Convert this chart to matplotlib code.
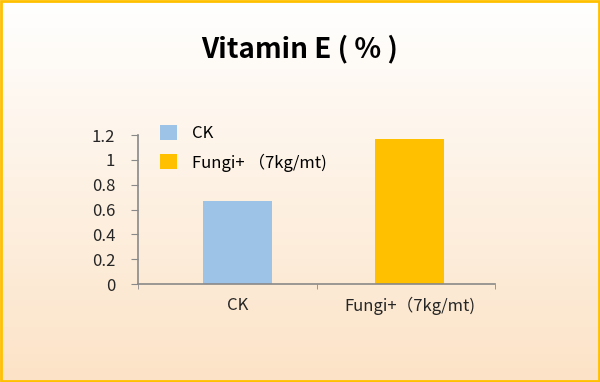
import matplotlib
matplotlib.use("Agg")
import matplotlib.pyplot as plt
import numpy as np
from matplotlib.patches import Rectangle

plt.rcParams['font.family'] = ['Noto Sans CJK SC', 'DejaVu Sans']

categories = ["CK", "Fungi+（7kg/mt)"]
legend_labels = ["CK", "Fungi+ （7kg/mt)"]
values = [0.67, 1.17]
colors = ["#9DC3E6", "#FFC000"]
yticks = [0, 0.2, 0.4, 0.6, 0.8, 1, 1.2]
ytick_labels = ["0", "0.2", "0.4", "0.6", "0.8", "1", "1.2"]

fig = plt.figure(figsize=(6, 3.82), dpi=100)

# gradient background
bg = fig.add_axes([0, 0, 1, 1], zorder=-2)
top = np.array([255, 255, 255]) / 255
bot = np.array([252, 227, 199]) / 255
t = np.linspace(0, 1, 256)[:, None]
grad = top[None, :] * (1 - t) + bot[None, :] * t
bg.imshow(grad[:, None, :], aspect='auto', extent=[0, 1, 0, 1])
bg.set_xlim(0, 1)
bg.set_ylim(0, 1)
bg.axis('off')
bg.add_patch(Rectangle((0.002, 0.003), 0.996, 0.994, transform=fig.transFigure,
                       fill=False, edgecolor="#FFC000", linewidth=2))

ax = fig.add_axes([0.23, 0.2565, 0.595, 0.39])
ax.set_facecolor('none')
x = np.arange(len(categories))
for i in range(len(categories)):
    ax.bar(x[i], values[i], width=0.4, color=colors[i], label=legend_labels[i])

ax.set_xlim(-0.577, 1.493)
ax.set_ylim(0, 1.2)
ax.set_yticks(yticks)
ax.set_yticklabels(ytick_labels, fontsize=12, color="#262626")
ax.set_xticks(x)
ax.set_xticklabels(categories, fontsize=12, color="#262626")
ax.set_xticks([-0.577, 0.461, 1.493], minor=True)
ax.tick_params(axis='x', which='major', length=0, pad=9)
ax.tick_params(axis='x', which='minor', length=3.6, color="#898989", direction='out')
ax.tick_params(axis='y', length=5, color="#898989", direction='out', pad=11.5)
for s in ['top', 'right']:
    ax.spines[s].set_visible(False)
for s in ['left', 'bottom']:
    ax.spines[s].set_color("#898989")
    ax.spines[s].set_linewidth(1.2)

ax.legend(loc='upper left', bbox_to_anchor=(0.267, 0.672), bbox_transform=fig.transFigure,
          frameon=False, fontsize=12, handlelength=1.0, handleheight=1.0,
          labelspacing=0.65, handletextpad=0.9, borderaxespad=0, borderpad=0)

fig.text(0.5, 0.872, "Vitamin E ( % )", ha='center', va='center', fontsize=20,
         fontweight='bold', color="black")

fig.savefig("out.png", dpi=100)
